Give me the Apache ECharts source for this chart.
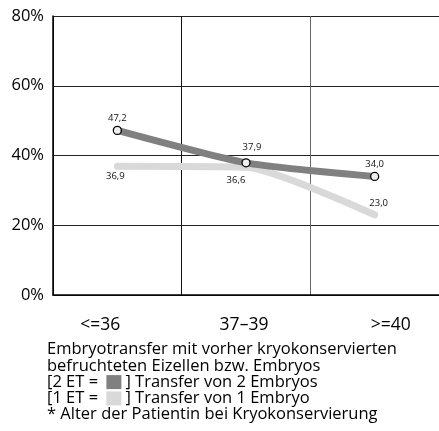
<!DOCTYPE html>
<html>
<head>
<meta charset="utf-8">
<script src="https://cdn.jsdelivr.net/npm/echarts@6/dist/echarts.min.js"></script>
<style>
  html, body { margin: 0; padding: 0; background: #fff; }
  #chart { width: 439px; height: 431px; }
</style>
</head>
<body>
<div id="chart"></div>
<script>
// Age groups of the patient at cryopreservation
const ageGroups = ['<=36', '37–39', '>=40'];
// Pregnancy rate (%) after transfer of 2 embryos
const twoEmbryoRates = [47.2, 37.9, 34.0];
// Pregnancy rate (%) after transfer of 1 embryo
const oneEmbryoRates = [36.9, 36.6, 23.0];
// Value axis range
const yMin = 0, yMax = 80, yStep = 20;

// Footnote lines below the chart
const noteLines = [
  'Embryotransfer mit vorher kryokonservierten',
  'befruchteten Eizellen bzw. Embryos',
  '[2 ET = {gap|}{two|}{gap|}] Transfer von 2 Embryos',
  '[1 ET = {gap|}{one|}{gap|}] Transfer von 1 Embryo',
  '* Alter der Patientin bei Kryokonservierung'
];

const darkGrey = '#808080';
const lightGrey = '#d9d9d9';
const FONT = '"Open Sans", "DejaVu Sans", sans-serif';

// Label nudges around each point, [dx, dy]
const twoLabelOffsets = [[0, -12], [6, -16], [0, -12]];
const oneLabelOffsets = [[-2, 10], [-10, 13], [4, -11]];
// Horizontal nudges of the category labels
const catPadding = [[0, 34, 0, 0], [0, 4, 0, 0], [0, 0, 0, 32]];

const fmt = v => v.toFixed(1).replace('.', ',');

function buildPoints(values, offsets) {
  return values.map((v, i) => ({
    value: v,
    label: { offset: offsets[i] }
  }));
}

const pointLabel = {
  show: true, position: 'inside', color: '#111',
  fontFamily: FONT, fontSize: 9.5,
  formatter: p => fmt(p.value)
};

const chart = echarts.init(document.getElementById('chart'), null, { renderer: 'canvas' });

chart.setOption({
  animation: false,
  backgroundColor: '#fff',
  grid: { left: 53, right: -6, top: 16, bottom: 136, containLabel: false },
  xAxis: {
    type: 'category',
    boundaryGap: true,
    data: ageGroups.map((c, i) => ({ value: c, textStyle: { padding: catPadding[i] } })),
    axisLine: { show: true, lineStyle: { color: '#000', width: 1.5 } },
    axisTick: { show: false },
    axisLabel: { color: '#000', fontFamily: FONT, fontSize: 17.5, margin: 21, interval: 0 },
    splitLine: { show: true, lineStyle: { color: ['#111', '#111', '#666', '#111'], width: 1 } }
  },
  yAxis: {
    type: 'value',
    min: yMin, max: yMax, interval: yStep,
    axisLine: { show: true, lineStyle: { color: '#000', width: 1.5 } },
    axisTick: { show: false },
    axisLabel: { color: '#000', fontFamily: FONT, fontSize: 16.5, margin: 9, formatter: v => v + '%' },
    splitLine: { show: true, lineStyle: { color: '#222', width: 1 } }
  },
  series: [
    {
      name: '1 ET',
      type: 'line',
      data: buildPoints(oneEmbryoRates, oneLabelOffsets),
      smooth: 0.2,
      symbol: 'circle',
      symbolSize: 1,
      lineStyle: { color: lightGrey, width: 7, cap: 'round', join: 'round' },
      itemStyle: { color: lightGrey, borderWidth: 0 },
      label: pointLabel,
      z: 2
    },
    {
      name: '2 ET',
      type: 'line',
      data: buildPoints(twoEmbryoRates, twoLabelOffsets),
      smooth: 0.2,
      symbol: 'circle',
      symbolSize: 8,
      lineStyle: { color: darkGrey, width: 7, cap: 'round', join: 'round' },
      itemStyle: { color: '#eeeeee', borderColor: '#000', borderWidth: 1.3 },
      label: pointLabel,
      z: 3
    }
  ],
  graphic: [
    {
      type: 'text',
      left: 47,
      top: 341,
      style: {
        text: noteLines.join('\n'),
        fill: '#000',
        font: '16.5px ' + FONT,
        lineHeight: 16.3,
        rich: {
          gap: { width: 4, height: 13 },
          two: { width: 15, height: 14, backgroundColor: darkGrey },
          one: { width: 15, height: 14, backgroundColor: lightGrey }
        }
      }
    }
  ]
});
</script>
</body>
</html>
